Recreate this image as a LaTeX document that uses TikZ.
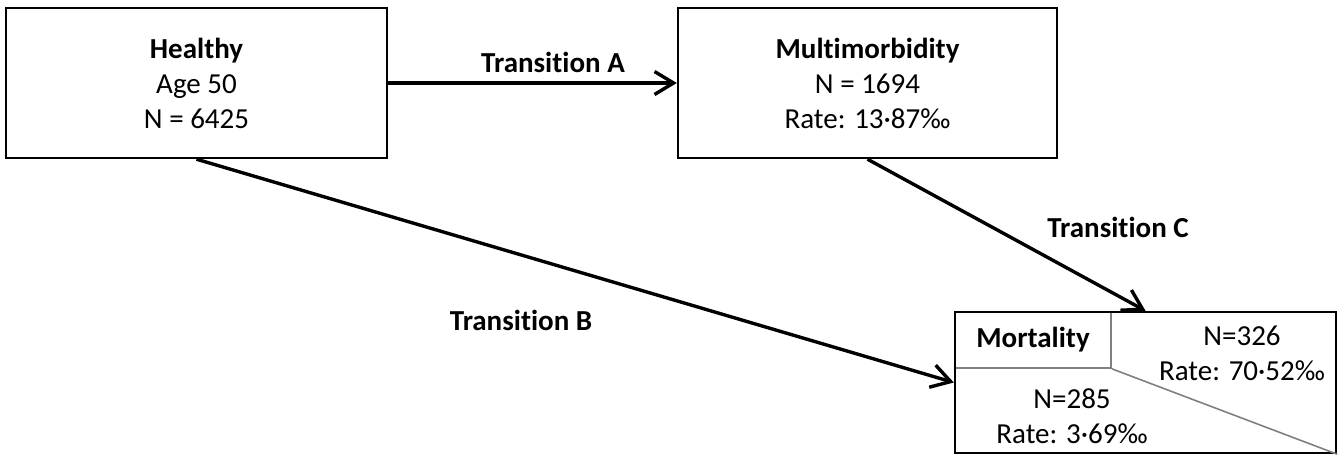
\documentclass[tikz,border=0pt]{standalone}
\usepackage{fontspec}
\setmainfont{Carlito}[Ligatures=NoCommon]
\usepackage{tikz}
\usetikzlibrary{arrows.meta, positioning}
\definecolor{mygray}{RGB}{128, 128, 128}

\begin{document}
\begin{tikzpicture}[x=0.5pt, y=-0.5pt,
    font=\fontsize{14.5pt}{17.5pt}\selectfont,
    statebox/.style={rectangle, draw, line width=1.2pt, align=center, inner sep=0pt},
    transarrow/.style={-{Straight Barb[length=9.5pt, width=11.5pt]}, line width=1.7pt},
    translabel/.style={font=\fontsize{14.5pt}{17.5pt}\selectfont\bfseries, anchor=base}]
    \useasboundingbox (0,0) rectangle (1343,456);

    % states
    \node[statebox, minimum width=190.5pt, minimum height=75pt] (H) at (196.5, 83) {\textbf{Healthy}\\Age 50\\N = 6425};
    \node[statebox, minimum width=189.5pt, minimum height=75pt] (M) at (867.5, 83) {\textbf{Multimorbidity}\\N = 1694\\Rate: 13·87‰};

    % mortality box
    \node[rectangle, draw=mygray, line width=0.8pt, minimum width=78pt, minimum height=28pt, font=\fontsize{14.5pt}{17.5pt}\selectfont\bfseries] (Dlab) at (1033, 340) {Mortality};
    \node[statebox, minimum width=190.5pt, minimum height=70.5pt] (D) at (1145.5, 382.5) {};
    \draw[mygray, line width=0.8pt] (Dlab.south east) -- (D.south east);
    \node[align=center] (DM) at (1242, 353) {N=326\\Rate: 70·52‰};
    \node[align=center] (DH) at (1072, 416) {N=285\\Rate: 3·69‰};

    % transitions
    \draw[transarrow] (H) -- (M);
    \draw[transarrow] (H.south) -- (D.west);
    \draw[transarrow] (M.south) -- (D.north);
    \node[translabel] (tA) at (553, 72) {Transition A};
    \node[translabel] (tB) at (521, 330) {Transition B};
    \node[translabel] (tC) at (1118, 237) {Transition C};
\end{tikzpicture}
\end{document}
